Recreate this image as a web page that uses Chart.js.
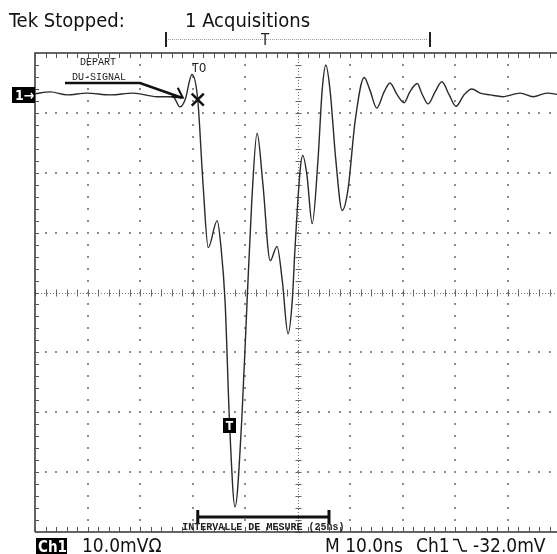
<!DOCTYPE html>
<html>
<head>
<meta charset="utf-8">
<script src="https://cdn.jsdelivr.net/npm/chart.js@4.4.0/dist/chart.umd.min.js"></script>
<style>
  html, body { margin: 0; padding: 0; background: #fff; overflow: hidden; }
  #wrap { position: relative; width: 562px; height: 554px; }
</style>
</head>
<body>
<div id="wrap"><canvas id="scope" width="562" height="554"></canvas></div>
<script>
// Ch1 trace (time in ns from trigger, level in mV)
const timeNs = [-50, -47.1, -43.9, -40.1, -35.7, -31.3, -26.8, -23.7, -22.4, -21.4,
  -20.1, -19.0, -18.0, -17.0, -15.3, -14.6, -13.8, -12.9, -11.9, -10.6,
  -9.6, -8.7, -7.7, -6.6, -5.2, -3.9, -2.9, -1.8, -1.0, -0.5,
  0.5, 1.0, 1.8, 2.8, 3.9, 4.7, 5.4, 6.2, 7.3, 8.5,
  9.6, 11.0, 12.7, 13.8, 15.1, 16.5, 17.6, 19.0, 20.3, 21.4,
  22.8, 23.7, 24.9, 26.2, 27.5, 28.9, 30.2, 31.7, 33.2, 34.8,
  36.7, 39.1, 42.4, 44.9, 47.5, 50];
const ch1mV = [0.2, 0.5, 0, 0.3, 0, 0.3, -0.3, -0.3, -2.0, -0.8,
  3.4, -0.8, -14.8, -25.5, -21.0, -25.2, -34.4, -55.7, -68.8, -54.0,
  -34.4, -17.6, -6.4, -14.8, -27.7, -25.3, -31.0, -39.9, -34.4, -26.0,
  -12.6, -10.1, -13.4, -21.5, -10.9, 0.8, 5.0, 0.8, -10.9, -19.3,
  -15.9, -4.2, 2.9, 0.8, -2.2, 0.5, 2.0, 0, -1.3, 0.5,
  1.9, 0.2, -1.5, 0.5, 2.2, 0, -1.9, 0, 1.0, 0.3,
  0, -0.3, 0.3, -0.3, 0.3, 0];

// screen divisions: 10 ns/div, 10 mV/div, centre at -33 mV
const xTicks = [-50, -40, -30, -20, -10, 0, 10, 20, 30, 40, 50];
const yTicks = [-73, -63, -53, -43, -33, -23, -13, -3, 7];
const departNs = -19;      // "TO" point
const intervalNs = 25;     // INTERVALLE DE MESURE

const DOT = '#8c8c8c';
const SANS = '"Liberation Sans Narrow", "DejaVu Sans Condensed", "Liberation Sans", sans-serif';
const MONO = '"Liberation Mono", "DejaVu Sans Mono", monospace';

const scopeGrid = {
  id: 'scopeGrid',
  beforeDatasetsDraw(chart) {
    const { ctx, chartArea: a, scales: { x, y } } = chart;
    const x0 = xTicks[0], x1 = xTicks[xTicks.length - 1];
    const y0 = yTicks[0], y1 = yTicks[yTicks.length - 1];
    const yc = yTicks[4];
    ctx.save();

    // dotted division lines
    ctx.fillStyle = DOT;
    xTicks.slice(1, -1).forEach(t => {
      if (t === 0) return;
      const px = Math.round(x.getPixelForValue(t));
      for (let v = y0 + 2; v < y1; v += 2) {
        ctx.fillRect(px - 1, Math.round(y.getPixelForValue(v)) - 1, 2, 2);
      }
    });
    yTicks.slice(1, -1).forEach(v => {
      if (v === yc) return;
      const py = Math.round(y.getPixelForValue(v));
      for (let t = x0 + 2; t < x1; t += 2) {
        ctx.fillRect(Math.round(x.getPixelForValue(t)) - 1, py - 1, 2, 2);
      }
    });

    // centre cross with graduations
    const cx = Math.round(x.getPixelForValue(0)) + 0.5;
    const cy = Math.round(y.getPixelForValue(yc)) + 0.5;
    ctx.strokeStyle = '#777';
    ctx.lineWidth = 1;
    ctx.setLineDash([1, 2]);
    ctx.beginPath();
    ctx.moveTo(cx, a.top); ctx.lineTo(cx, a.bottom);
    ctx.moveTo(a.left, cy); ctx.lineTo(a.right, cy);
    ctx.stroke();
    ctx.setLineDash([]);
    ctx.strokeStyle = '#666';
    ctx.beginPath();
    for (let v = y0; v <= y1; v += 2) {
      const py = Math.round(y.getPixelForValue(v)) + 0.5;
      ctx.moveTo(cx - 3, py); ctx.lineTo(cx + 3, py);
    }
    for (let t = x0; t <= x1; t += 2) {
      const px = Math.round(x.getPixelForValue(t)) + 0.5;
      ctx.moveTo(px, cy - 4); ctx.lineTo(px, cy + 3);
    }
    ctx.stroke();

    // frame with ticks
    ctx.strokeStyle = '#333';
    ctx.lineWidth = 1.5;
    ctx.beginPath();
    ctx.moveTo(a.left, a.bottom); ctx.lineTo(a.left, a.top); ctx.lineTo(a.right, a.top);
    ctx.moveTo(a.left, a.bottom); ctx.lineTo(a.right, a.bottom);
    ctx.stroke();
    ctx.lineWidth = 1;
    ctx.strokeStyle = '#555';
    ctx.beginPath();
    for (let t = x0; t <= x1; t += 2) {
      const px = Math.round(x.getPixelForValue(t)) + 0.5;
      ctx.moveTo(px, a.top); ctx.lineTo(px, a.top + 5);
      ctx.moveTo(px, a.bottom); ctx.lineTo(px, a.bottom - 5);
    }
    for (let v = y0; v <= y1; v += 2) {
      const py = Math.round(y.getPixelForValue(v)) + 0.5;
      ctx.moveTo(a.left, py); ctx.lineTo(a.left + 4, py);
    }
    ctx.stroke();
    ctx.restore();
  },

  afterDraw(chart) {
    const { ctx, scales: { x, y } } = chart;
    ctx.save();
    ctx.textBaseline = 'alphabetic';

    // header
    ctx.fillStyle = '#111';
    ctx.font = '20px ' + SANS;
    ctx.fillText('Tek Stopped:', 9, 27);
    ctx.fillText('1 Acquisitions', 185, 27);

    // trigger position bracket
    ctx.strokeStyle = '#222';
    ctx.lineWidth = 2;
    ctx.beginPath();
    ctx.moveTo(166, 32); ctx.lineTo(166, 47);
    ctx.moveTo(430, 32); ctx.lineTo(430, 47);
    ctx.stroke();
    ctx.strokeStyle = '#999';
    ctx.lineWidth = 1;
    ctx.setLineDash([1, 1]);
    ctx.beginPath();
    ctx.moveTo(168, 39.5); ctx.lineTo(428, 39.5);
    ctx.stroke();
    ctx.setLineDash([]);
    ctx.fillStyle = '#222';
    ctx.font = '15px ' + SANS;
    ctx.textAlign = 'center';
    ctx.fillText('T', 265, 45);
    ctx.textAlign = 'left';

    // channel 1 ground marker
    const gy = Math.round(y.getPixelForValue(0));
    ctx.fillStyle = '#000';
    ctx.fillRect(12, gy - 8, 23, 16);
    ctx.fillStyle = '#fff';
    ctx.font = 'bold 14px ' + SANS;
    ctx.fillText('1→', 15, gy + 5);

    // DEPART DU-SIGNAL annotation
    ctx.fillStyle = '#222';
    ctx.font = '10px ' + MONO;
    ctx.fillText('DEPART', 80, 65);
    ctx.fillText('DU-SIGNAL', 72, 80);
    const tx = x.getPixelForValue(departNs);
    const ty = y.getPixelForValue(-0.8);
    ctx.strokeStyle = '#111';
    ctx.lineWidth = 2.5;
    ctx.beginPath();
    ctx.moveTo(65, 83); ctx.lineTo(140, 83); ctx.lineTo(tx - 16, ty - 2);
    ctx.stroke();
    ctx.lineWidth = 2;
    ctx.beginPath();
    ctx.moveTo(tx - 26, ty - 3); ctx.lineTo(tx - 15, ty - 2); ctx.lineTo(tx - 20, ty - 12);
    ctx.stroke();

    // TO cross
    ctx.lineWidth = 2.5;
    ctx.beginPath();
    ctx.moveTo(tx - 6, ty - 6); ctx.lineTo(tx + 6, ty + 6);
    ctx.moveTo(tx + 6, ty - 6); ctx.lineTo(tx - 6, ty + 6);
    ctx.stroke();
    ctx.font = '12px ' + MONO;
    ctx.fillText('TO', tx - 6, 72);

    // T marker on the falling edge
    ctx.fillStyle = '#000';
    ctx.fillRect(223, 418, 13, 15);
    ctx.fillStyle = '#fff';
    ctx.font = 'bold 12px ' + SANS;
    ctx.textAlign = 'center';
    ctx.fillText('T', 229.5, 430);
    ctx.textAlign = 'left';

    // measurement interval
    const m0 = x.getPixelForValue(departNs);
    const m1 = x.getPixelForValue(departNs + intervalNs);
    ctx.strokeStyle = '#111';
    ctx.lineWidth = 3;
    ctx.beginPath();
    ctx.moveTo(m0, 517); ctx.lineTo(m1, 517);
    ctx.moveTo(m0, 510); ctx.lineTo(m0, 524);
    ctx.moveTo(m1, 510); ctx.lineTo(m1, 524);
    ctx.stroke();
    ctx.fillStyle = '#222';
    ctx.font = 'bold 10px ' + MONO;
    ctx.textAlign = 'center';
    ctx.fillText('INTERVALLE DE MESURE (25ns)', (m0 + m1) / 2, 530);
    ctx.textAlign = 'left';

    // footer readouts
    ctx.fillStyle = '#000';
    ctx.fillRect(36, 538, 31, 16);
    ctx.fillStyle = '#fff';
    ctx.font = 'bold 15px ' + SANS;
    ctx.fillText('Ch1', 38, 552);
    ctx.fillStyle = '#111';
    ctx.font = '19px ' + SANS;
    ctx.fillText('10.0mVΩ', 82, 552);
    ctx.fillText('M 10.0ns', 325, 552);
    ctx.fillText('Ch1', 416, 552);
    ctx.fillText('-32.0mV', 473, 552);
    // falling-slope trigger symbol
    ctx.strokeStyle = '#111';
    ctx.lineWidth = 1.5;
    ctx.beginPath();
    ctx.moveTo(453, 539.5); ctx.lineTo(458, 539.5); ctx.lineTo(462, 551);
    ctx.moveTo(462, 551); ctx.lineTo(467, 551);
    ctx.stroke();
    ctx.restore();
  }
};

const ctx = document.getElementById('scope');
const chart = new Chart(ctx, {
  type: 'line',
  data: {
    datasets: [{
      data: timeNs.map((t, i) => ({ x: t, y: ch1mV[i] })),
      borderColor: '#2a2a2a',
      borderWidth: 1.4,
      pointRadius: 0,
      cubicInterpolationMode: 'monotone',
      fill: false
    }]
  },
  options: {
    responsive: false,
    animation: false,
    devicePixelRatio: 1,
    layout: { padding: { left: 35, top: 53, right: 2, bottom: 22 } },
    plugins: { legend: { display: false }, tooltip: { enabled: false } },
    scales: {
      x: { type: 'linear', min: xTicks[0], max: xTicks[xTicks.length - 1], display: false },
      y: { min: yTicks[0], max: yTicks[yTicks.length - 1], display: false }
    }
  },
  plugins: [scopeGrid]
});
</script>
</body>
</html>
